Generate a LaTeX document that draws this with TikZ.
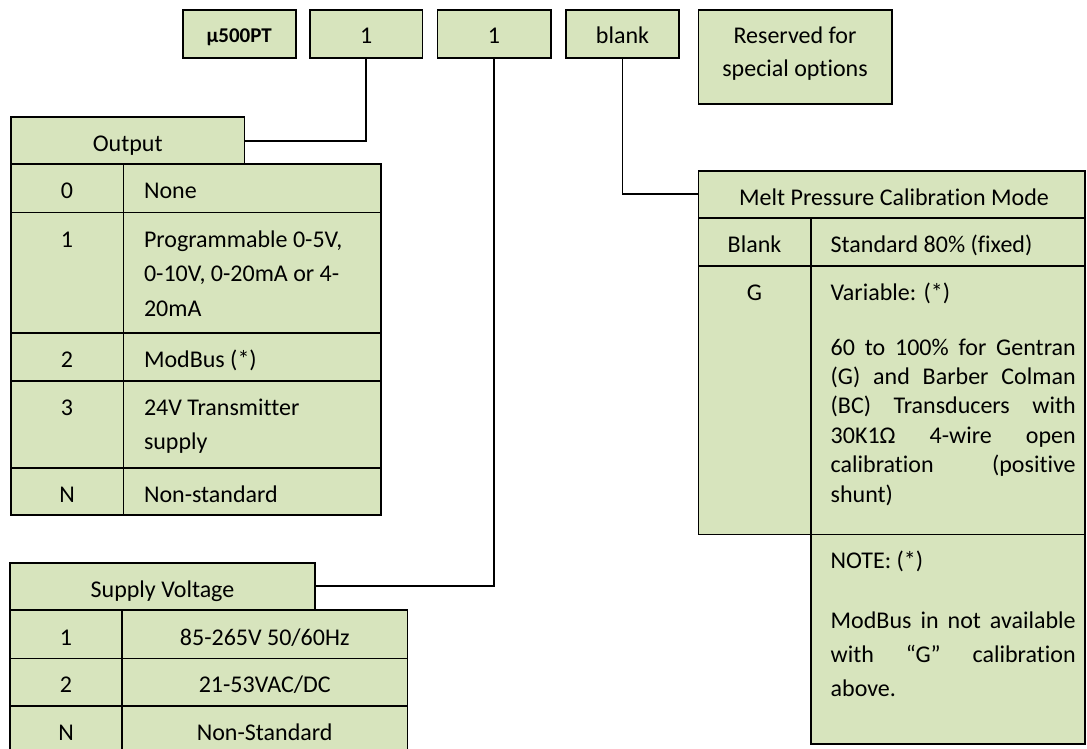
\documentclass[tikz,border=0pt]{standalone}
\usepackage{fontspec}
\setmainfont{Carlito}[Ligatures={NoCommon}]
\definecolor{cellfill}{HTML}{D7E4BD}
\newcommand{\jline}[1]{\makebox[245pt][s]{#1}}
\begin{document}
\begin{tikzpicture}[x=1pt,y=-1pt,
  cellbox/.style={draw=black, fill=cellfill, line width=1.6pt, inner sep=0pt, outer sep=0pt, anchor=north west},
  tablefill/.style={draw=black, fill=cellfill, line width=1.6pt},
  rule/.style={draw=black, line width=1.6pt},
  conn/.style={draw=black, line width=1.9pt},
  txt/.style={inner sep=0pt, outer sep=0pt, anchor=base, font=\fontsize{24}{29.4}\selectfont},
  ltxt/.style={txt, anchor=base west},
  btxt/.style={txt, font=\fontsize{21}{25}\selectfont\bfseries}]
\useasboundingbox (0,0) rectangle (1087,749);
\clip (0,0) rectangle (1087,749);

% ---------- top code boxes ----------
\node[cellbox, minimum width=113pt, minimum height=48.3pt] (b0) at (182.7,10) {};
\node[cellbox, minimum width=112.3pt, minimum height=48.3pt] (b1) at (310,10) {};
\node[cellbox, minimum width=113.4pt, minimum height=48.3pt] (b2) at (437.3,10) {};
\node[cellbox, minimum width=113pt, minimum height=48.3pt] (b3) at (566,10) {};
\node[cellbox, minimum width=193.4pt, minimum height=94pt] (b4) at (698.3,10) {};

\node[btxt] at (239.2,43) {μ500PT};
\node[txt] at (366.2,44) {1};
\node[txt] at (494,44) {1};
\node[txt] at (622.5,44) {blank};
\node[txt] at (795,44) {Reserved for};
\node[txt] at (795,77) {special options};

% ---------- Output table ----------
\path[tablefill] (10.7,164.3) rectangle (380.7,515);
\draw[rule] (10.7,212.3) -- (380.7,212.3);
\draw[rule] (10.7,332.7) -- (380.7,332.7);
\draw[rule] (10.7,380.7) -- (380.7,380.7);
\draw[rule] (10.7,467.7) -- (380.7,467.7);
\draw[rule] (123.3,164.3) -- (123.3,515);
\node[cellbox, minimum width=233.3pt, minimum height=47pt] (oh) at (11,117.3) {};
\node[txt] at (127.7,151.8) {Output};

\node[txt] at (67,198.6) {0};
\node[ltxt] at (144,198.6) {None};
\node[txt] at (67,247) {1};
\node[ltxt] at (144,247) {Programmable 0-5V,};
\node[ltxt] at (144,281.5) {0-10V, 0-20mA or 4-};
\node[ltxt] at (144,316) {20mA};
\node[txt] at (67,367) {2};
\node[ltxt] at (144,367) {ModBus (*)};
\node[txt] at (67,415) {3};
\node[ltxt] at (144,415) {24V Transmitter};
\node[ltxt] at (144,449) {supply};
\node[txt] at (67,502) {N};
\node[ltxt] at (144,502) {Non-standard};

% ---------- Supply Voltage table ----------
\path[tablefill] (10,610) rectangle (407.3,756);
\draw[rule] (10,658.3) -- (407.3,658.3);
\draw[rule] (10,706) -- (407.3,706);
\draw[rule] (122,610) -- (122,756);
\node[cellbox, minimum width=305pt, minimum height=47.3pt] (sh) at (10,562.7) {};
\node[txt] at (162.5,597.3) {Supply Voltage};

\node[txt] at (66,645) {1};
\node[txt] at (264.7,645) {85-265V 50/60Hz};
\node[txt] at (66,692.6) {2};
\node[txt] at (264.7,692.6) {21-53VAC/DC};
\node[txt] at (66,740.3) {N};
\node[txt] at (264.7,740.3) {Non-Standard};

% ---------- Melt Pressure Calibration Mode table ----------
\path[tablefill] (698.3,217.7) rectangle (1085,534.3);
\path[tablefill] (810.7,534.3) rectangle (1085,744);
\draw[rule] (698.3,266) -- (1085,266);
\draw[rule] (810.7,217.7) -- (810.7,534.3);
\node[cellbox, minimum width=386.7pt, minimum height=47pt] (mh) at (698.3,170.7) {};
\node[txt] at (894,205) {Melt Pressure Calibration Mode};

\node[txt] at (754.5,252.3) {Blank};
\node[ltxt] at (830.7,252.3) {Standard 80\% (fixed)};
\node[txt] at (754.5,300) {G};
\node[ltxt] at (830.7,300) {Variable: (*)};
\node[ltxt] at (830.7,355) {\jline{60 to 100\% for Gentran}};
\node[ltxt] at (830.7,384.4) {\jline{(G) and Barber Colman}};
\node[ltxt] at (830.7,413.8) {\jline{(BC) Transducers with}};
\node[ltxt] at (830.7,443.2) {\jline{30K1Ω 4-wire open}};
\node[ltxt] at (830.7,472.6) {\jline{calibration (positive}};
\node[ltxt] at (830.7,502) {shunt)};

\node[ltxt] at (830.7,568.5) {NOTE: (*)};
\node[ltxt] at (830.7,628.3) {\jline{ModBus in not available}};
\node[ltxt] at (830.7,662.3) {\jline{with “G” calibration}};
\node[ltxt] at (830.7,696.5) {above.};

% ---------- connectors ----------
\draw[conn] (b1.south) |- (oh.east);
\draw[conn] (b2.south) |- (sh.east);
\draw[conn] (b3.south) |- (mh.west);
\end{tikzpicture}
\end{document}
